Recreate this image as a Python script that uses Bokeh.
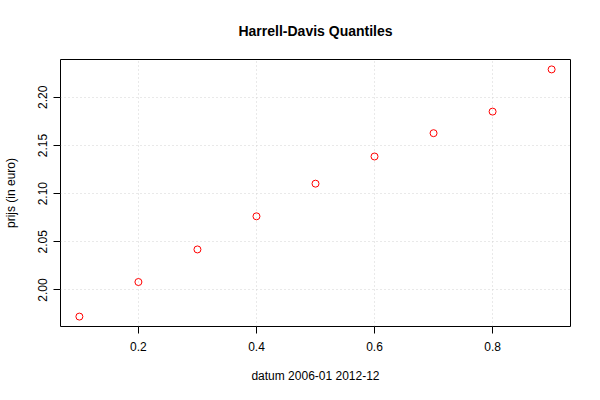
from bokeh.plotting import figure
from bokeh.models import Range1d, FixedTicker, PrintfTickFormatter
from bokeh.embed import file_html
from bokeh.resources import INLINE

# data
probs = [0.1, 0.2, 0.3, 0.4, 0.5, 0.6, 0.7, 0.8, 0.9]
quantiles = [1.9724, 2.0083, 2.0421, 2.0765, 2.1104, 2.1386, 2.1628, 2.1852, 2.2290]
x_ticks = [0.2, 0.4, 0.6, 0.8]
y_ticks = [2.00, 2.05, 2.10, 2.15, 2.20]

FONT = "Liberation Sans"

p = figure(width=600, height=400, output_backend="svg", toolbar_location=None,
           title="Harrell-Davis Quantiles",
           x_range=Range1d(0.068, 0.932), y_range=Range1d(1.9621, 2.2393),
           min_border_left=59, min_border_right=30, min_border_top=59, min_border_bottom=74)

p.background_fill_color = "white"
p.border_fill_color = "white"
p.outline_line_color = "black"
p.outline_line_width = 1

p.title.align = "center"
p.title.text_font = FONT
p.title.text_font_size = "14px"
p.title.text_font_style = "bold"
p.title.text_color = "black"
p.title.standoff = 41

p.scatter(probs, quantiles, marker="circle", size=7, line_color="red",
          fill_color=None, line_width=1)

for ax in (p.xaxis[0], p.yaxis[0]):
    ax.axis_line_color = None
    ax.major_tick_out = 7
    ax.major_tick_in = 0
    ax.minor_tick_line_color = None
    ax.major_tick_line_color = "black"
    ax.major_label_text_font = FONT
    ax.major_label_text_font_size = "12px"
    ax.major_label_text_color = "black"
    ax.axis_label_text_font = FONT
    ax.axis_label_text_font_size = "12px"
    ax.axis_label_text_font_style = "normal"
    ax.axis_label_text_color = "black"

p.xaxis[0].ticker = FixedTicker(ticks=x_ticks)
p.xaxis[0].formatter = PrintfTickFormatter(format="%.1f")
p.xaxis[0].axis_label = "datum 2006-01 2012-12"
p.xaxis[0].major_label_standoff = 8
p.xaxis[0].axis_label_standoff = 15

p.yaxis[0].ticker = FixedTicker(ticks=y_ticks)
p.yaxis[0].formatter = PrintfTickFormatter(format="%.2f")
p.yaxis[0].major_label_orientation = "vertical"
p.yaxis[0].axis_label = "prijs (in euro)"
p.yaxis[0].major_label_standoff = 6
p.yaxis[0].axis_label_standoff = 18

p.xgrid[0].ticker = FixedTicker(ticks=x_ticks)
p.ygrid[0].ticker = FixedTicker(ticks=y_ticks)
for g in (p.xgrid[0], p.ygrid[0]):
    g.grid_line_color = "#d3d3d3"
    g.grid_line_dash = "1 3"
    g.grid_line_width = 1

open("out.html", "w").write(file_html(p, INLINE))
